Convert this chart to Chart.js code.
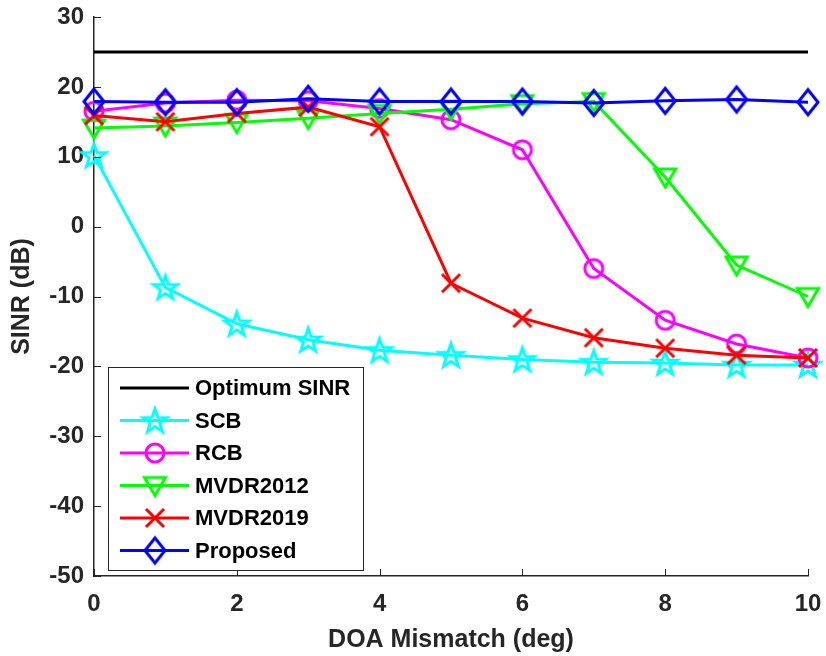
<!DOCTYPE html>
<html>
<head>
<meta charset="utf-8">
<script src="https://cdn.jsdelivr.net/npm/chart.js@4/dist/chart.umd.min.js"></script>
<style>
html,body{margin:0;padding:0;background:#fff;}
canvas{display:block;}
</style>
</head>
<body>
<canvas id="c" width="826" height="656"></canvas>
<script>
// ---- data ----
const doa = [0, 1, 2, 3, 4, 5, 6, 7, 8, 9, 10];
const optimumSINR = [25, 25, 25, 25, 25, 25, 25, 25, 25, 25, 25];
const scb = [10.2, -8.7, -13.9, -16.2, -17.7, -18.4, -19.0, -19.4, -19.5, -19.8, -19.8];
const rcb = [16.5, 17.7, 18.1, 18.0, 16.9, 15.3, 11.0, -6.0, -13.4, -16.8, -18.8];
const mvdr2012 = [14.1, 14.4, 14.9, 15.5, 16.2, 16.8, 17.6, 17.9, 7.1, -5.5, -10.0];
const mvdr2019 = [15.9, 15.0, 16.2, 17.1, 14.3, -8.1, -13.1, -15.9, -17.4, -18.4, -18.8];
const proposed = [17.9, 17.8, 17.8, 18.3, 17.9, 17.9, 17.9, 17.7, 18.0, 18.2, 17.8];
const seriesNames = ['Optimum SINR', 'SCB', 'RCB', 'MVDR2012', 'MVDR2019', 'Proposed'];
const xTickValues = [0, 2, 4, 6, 8, 10];
const yTickValues = [-50, -40, -30, -20, -10, 0, 10, 20, 30];
const xTitle = 'DOA Mismatch (deg)';
const yTitle = 'SINR (dB)';

const FONT = '"Liberation Sans", Arial, Helvetica, sans-serif';
const AXIS = '#262626';

function makeMarker(shape, color) {
  const c = document.createElement('canvas');
  c.width = 32; c.height = 32;
  const g = c.getContext('2d');
  const m = 16;
  g.strokeStyle = color;
  g.lineWidth = 3;
  g.lineJoin = 'miter';
  g.beginPath();
  if (shape === 'star') {
    const R = 12.5, r = 5.0;
    for (let i = 0; i < 10; i++) {
      const a = -Math.PI / 2 + i * Math.PI / 5;
      const rr = i % 2 === 0 ? R : r;
      const px = m + rr * Math.cos(a), py = m + rr * Math.sin(a) + 1;
      if (i === 0) g.moveTo(px, py); else g.lineTo(px, py);
    }
    g.closePath();
  } else if (shape === 'circle') {
    g.arc(m, m, 9, 0, Math.PI * 2);
  } else if (shape === 'tri') {
    g.moveTo(m - 10.5, m - 8);
    g.lineTo(m + 10.5, m - 8);
    g.lineTo(m, m + 10);
    g.closePath();
  } else if (shape === 'x') {
    g.moveTo(m - 9, m - 9); g.lineTo(m + 9, m + 9);
    g.moveTo(m + 9, m - 9); g.lineTo(m - 9, m + 9);
  } else if (shape === 'diamond') {
    g.moveTo(m, m - 12.5);
    g.lineTo(m + 10, m);
    g.lineTo(m, m + 12.5);
    g.lineTo(m - 10, m);
    g.closePath();
  }
  g.stroke();
  return c;
}

const colors = ['#000000', '#00FFFF', '#FF00FF', '#00FF00', '#FF0000', '#0000FF'];
const shapes = [null, 'star', 'circle', 'tri', 'x', 'diamond'];
const markers = shapes.map((s, i) => s ? makeMarker(s, colors[i]) : null);
const values = [optimumSINR, scb, rcb, mvdr2012, mvdr2019, proposed];

const datasets = values.map((vals, i) => ({
  label: seriesNames[i],
  data: doa.map((x, k) => ({ x: x, y: vals[k] })),
  borderColor: colors[i],
  backgroundColor: 'rgba(0,0,0,0)',
  borderWidth: 3,
  pointStyle: markers[i] || 'circle',
  pointRadius: markers[i] ? 12 : 0,
  pointHoverRadius: markers[i] ? 12 : 0,
  tension: 0,
  fill: false,
  clip: false,
  order: 10 - i
}));

const tickPlugin = {
  id: 'inTicks',
  afterDatasetsDraw(chart) {
    const ctx = chart.ctx;
    const xs = chart.scales.x, ys = chart.scales.y;
    const ca = chart.chartArea;
    ctx.save();
    ctx.strokeStyle = AXIS;
    ctx.lineWidth = 1;
    ctx.beginPath();
    xTickValues.forEach(v => {
      const px = Math.round(xs.getPixelForValue(v)) + 0.5;
      ctx.moveTo(px, ca.bottom); ctx.lineTo(px, ca.bottom - 7);
    });
    yTickValues.forEach(v => {
      const py = Math.round(ys.getPixelForValue(v)) + 0.5;
      ctx.moveTo(ca.left, py); ctx.lineTo(ca.left + 7, py);
    });
    ctx.stroke();

    // axis titles
    ctx.fillStyle = AXIS;
    ctx.font = 'bold 25px ' + FONT;
    ctx.textAlign = 'center';
    ctx.textBaseline = 'middle';
    ctx.fillText(xTitle, (ca.left + ca.right) / 2, 640);
    ctx.translate(22, (ca.top + ca.bottom) / 2);
    ctx.rotate(-Math.PI / 2);
    ctx.fillText(yTitle, 0, 0);
    ctx.restore();

    // legend
    ctx.save();
    const bx = 108, by = 367, bw = 255, bh = 203;
    ctx.fillStyle = '#ffffff';
    ctx.fillRect(bx, by, bw, bh);
    ctx.strokeStyle = AXIS;
    ctx.lineWidth = 1;
    ctx.strokeRect(bx + 0.5, by + 0.5, bw, bh);
    ctx.font = 'bold 22px ' + FONT;
    ctx.textAlign = 'left';
    ctx.textBaseline = 'middle';
    seriesNames.forEach((name, i) => {
      const y = 388 + i * 32.5;
      ctx.strokeStyle = colors[i];
      ctx.lineWidth = 3;
      ctx.beginPath();
      ctx.moveTo(120, y); ctx.lineTo(189, y);
      ctx.stroke();
      if (markers[i]) {
        ctx.drawImage(markers[i], 155 - 16, y - 16);
      }
      ctx.fillStyle = '#000000';
      ctx.fillText(name, 195, y + 1);
    });
    ctx.restore();
  }
};

new Chart(document.getElementById('c'), {
  type: 'line',
  data: { datasets: datasets },
  options: {
    responsive: false,
    animation: false,
    devicePixelRatio: 1,
    layout: { padding: { top: 17, right: 18, left: 0, bottom: 0 } },
    plugins: { legend: { display: false }, tooltip: { enabled: false } },
    scales: {
      x: {
        type: 'linear',
        min: 0, max: 10,
        afterFit: s => { s.height = 80; s.paddingLeft = 0; s.paddingRight = 0; },
        afterBuildTicks: s => { s.ticks = xTickValues.map(v => ({ value: v })); },
        grid: { display: true, drawOnChartArea: false, drawTicks: false, color: 'rgba(0,0,0,0)' },
        border: { display: true, color: AXIS, width: 1.5 },
        ticks: { padding: 14, color: AXIS, font: { family: FONT, size: 24, weight: 'bold' }, maxRotation: 0 }
      },
      y: {
        type: 'linear',
        min: -50, max: 30,
        afterFit: s => { s.width = 94; s.paddingTop = 0; s.paddingBottom = 0; },
        afterBuildTicks: s => { s.ticks = yTickValues.map(v => ({ value: v })); },
        grid: { display: true, drawOnChartArea: false, drawTicks: false, color: 'rgba(0,0,0,0)' },
        border: { display: true, color: AXIS, width: 1.5 },
        ticks: { padding: 10, color: AXIS, font: { family: FONT, size: 24, weight: 'bold' } }
      }
    }
  },
  plugins: [tickPlugin]
});
</script>
</body>
</html>
